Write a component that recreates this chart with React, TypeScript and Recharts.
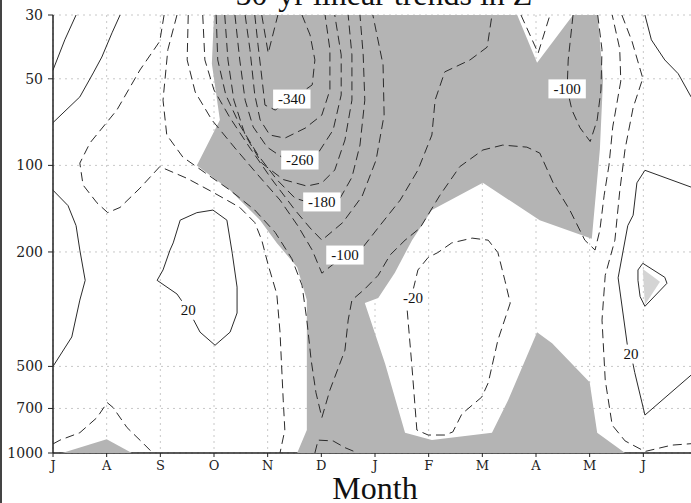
import React from 'react';
import { ScatterChart, Scatter, XAxis, YAxis, CartesianGrid } from 'recharts';

type Pt = [number, number]; // [month index from July, pressure hPa]

const MONTHS = ['J', 'A', 'S', 'O', 'N', 'D', 'J', 'F', 'M', 'A', 'M', 'J'];
const MONTH_TICKS = [0, 1, 2, 3, 4, 5, 6, 7, 8, 9, 10, 11];
const LEVEL_TICKS = [30, 50, 100, 200, 500, 700, 1000];

// shaded (significant) areas
const SIG_MAIN: Pt[] = [
  [3.0, 30], [8.65, 30], [9.02, 44], [9.69, 30], [10.15, 30], [10.25, 50], [10.19, 88],
  [10.04, 180], [9.07, 155], [8.01, 115], [7.06, 143], [6.69, 182], [6.37, 236], [6.06, 289],
  [5.81, 301], [6.19, 490], [6.56, 850], [7.06, 902], [8.18, 850], [8.48, 655], [9.02, 380],
  [9.3, 415], [10.0, 567], [10.14, 850], [10.66, 1000], [4.55, 1000], [4.73, 832], [4.73, 294],
  [4.55, 226], [4.17, 186], [3.86, 155], [3.3, 122], [2.68, 100], [3.11, 69.5], [2.96, 44.3],
];
const SIG_SURFACE: Pt[] = [[0.17, 1000], [1.0, 895], [1.47, 1000]];
const SIG_JUNE: Pt[] = [[10.99, 229], [11.31, 254], [11.03, 306]];

// positive trends (solid)
const POS_A: Pt[] = [[0.43, 30], [0.22, 36.6], [0, 46.6]];
const POS_B: Pt[] = [[1.25, 30], [1.1, 34.6], [0.91, 42], [0.75, 47.7], [0.5, 57.8], [0, 71]];
const POS_C: Pt[] = [[0, 122], [0.28, 138], [0.43, 162], [0.5, 197], [0.6, 251], [0.5, 294], [0.35, 395], [0, 500]];
const POS_AUTUMN: Pt[] = [
  [2.24, 186], [2.37, 155], [2.68, 146], [2.98, 143], [3.24, 155], [3.34, 202], [3.43, 265],
  [3.43, 326], [3.3, 380], [3.02, 422], [2.74, 380], [2.59, 336], [2.52, 319], [2.31, 280],
  [1.94, 251], [2.05, 231], [2.18, 197], [2.24, 186],
];
const POS_JUNE: Pt[] = [
  [12, 121], [11.89, 119], [11.03, 104], [10.88, 115], [10.81, 149], [10.71, 162], [10.53, 246],
  [10.71, 432], [10.77, 453], [10.84, 525], [11.03, 738], [11.89, 536], [12, 515],
];
const POS_TOP_RIGHT: Pt[] = [[11.03, 30], [11.15, 36.6], [11.4, 43], [11.65, 48], [11.89, 57.8], [12, 60]];
const POS_JUNE_CORE: Pt[] = [[10.9, 231], [10.99, 219], [11.4, 245], [11.44, 257], [11.03, 309], [10.94, 286], [10.9, 251], [10.9, 231]];

// negative trends (dashed)
const NEG_380: Pt[] = [[3.89, 30], [4.01, 40.7], [4.19, 30]];
const NEG_340: Pt[] = [
  [3.76, 30], [3.82, 38.1], [3.89, 49.3], [3.95, 61.7], [4.14, 64.2], [4.45, 58.8], [4.83, 52.5],
  [4.88, 43], [4.79, 35.2], [4.64, 30],
];
const NEG_300: Pt[] = [
  [3.58, 30], [3.67, 39.6], [3.76, 56.9], [3.86, 69.5], [4.04, 78.4], [4.32, 80.4], [4.7, 74.2],
  [5.01, 66.8], [5.16, 54.7], [5.16, 39.6], [5.07, 30],
];
const NEG_260: Pt[] = [
  [3.39, 30], [3.48, 43], [3.58, 59.3], [3.73, 73.5], [3.99, 86.4], [4.29, 94.3], [4.6, 95.8],
  [4.94, 90.6], [5.22, 75.3], [5.37, 56.9], [5.37, 41.3], [5.25, 30],
];
const NEG_220: Pt[] = [
  [3.2, 30], [3.26, 43], [3.37, 59.3], [3.58, 78.4], [3.89, 98.2], [4.29, 112], [4.73, 118],
  [5.01, 115], [5.25, 103.8], [5.44, 81.6], [5.57, 59.3], [5.57, 41.3], [5.5, 30],
];
const NEG_180: Pt[] = [
  [3.04, 30], [3.07, 43], [3.22, 56.9], [3.48, 72.4], [3.82, 92.1], [4.17, 112], [4.51, 130],
  [4.79, 135], [5.01, 134], [5.35, 130], [5.57, 110], [5.72, 85], [5.81, 59.3], [5.78, 41.3], [5.72, 30],
];
const NEG_140: Pt[] = [
  [2.79, 30], [2.83, 43], [3.0, 54.7], [3.3, 68.4], [3.67, 87], [4.08, 112], [4.51, 143],
  [4.79, 165], [5.01, 182], [5.4, 158], [5.76, 128], [6.02, 95.8], [6.17, 66.8], [6.15, 44.7], [5.96, 30],
];
const NEG_100: Pt[] = [
  [2.52, 30], [2.5, 43], [2.65, 55.6], [2.96, 69.5], [3.39, 87], [3.82, 108], [4.23, 132],
  [4.56, 162], [4.83, 197], [5.01, 237], [5.44, 205], [5.78, 192], [6.09, 162], [6.47, 132],
  [6.8, 103.8], [7.06, 78.4], [7.12, 59.3], [7.3, 47.3], [7.77, 43], [8.09, 38.8], [8.18, 30],
];
const NEG_60: Pt[] = [
  [2.31, 30], [2.14, 39.6], [2.05, 59.3], [2.12, 78.4], [2.42, 93.6], [2.83, 106], [3.3, 122],
  [3.76, 143], [4.14, 171], [4.45, 211], [4.64, 261], [4.73, 345], [4.81, 475], [4.9, 617],
  [5.01, 753], [5.16, 604], [5.44, 439], [5.5, 345], [5.57, 294], [5.81, 269], [6.06, 241],
  [6.28, 205], [6.56, 182], [6.84, 165], [7.21, 127], [7.58, 101], [8.01, 88.4], [8.38, 85],
  [8.83, 86.4], [9.07, 90.6], [9.32, 115], [9.63, 143], [9.91, 182], [10.1, 197], [10.19, 168],
  [10.27, 127], [10.36, 99.8], [10.43, 73.5], [10.58, 50.9], [10.56, 39.3], [10.42, 30],
];
const NEG_20_WEST: Pt[] = [
  [2.07, 30], [1.99, 37], [1.62, 46.6], [1.19, 64.2], [0.69, 83.5], [0.5, 98.2], [0.56, 117],
  [0.82, 135], [1.02, 146], [1.25, 140], [1.62, 120], [1.99, 101], [2.5, 111], [2.98, 124],
  [3.48, 140], [3.76, 158], [3.89, 182], [4.01, 222], [4.17, 280], [4.23, 380], [4.29, 655],
  [4.32, 832], [4.23, 1000],
];
const NEG_20_EAST: Pt[] = [
  [10.6, 30], [10.79, 37.1], [10.99, 49.8], [10.81, 63], [10.66, 87.7], [10.56, 123], [10.47, 182],
  [10.29, 241], [10.23, 345], [10.29, 558], [10.42, 800], [10.66, 908], [11.03, 988], [11.53, 939], [12, 925],
];
const NEG_20_SPRING: Pt[] = [
  [6.71, 289], [6.6, 319], [6.69, 505], [6.78, 832], [6.99, 866], [7.3, 866], [7.45, 845],
  [7.62, 731], [7.99, 639], [8.11, 570], [8.29, 405], [8.52, 301], [8.42, 251], [8.29, 201],
  [8.11, 182], [7.81, 179], [7.43, 186], [7.17, 201], [6.99, 209], [6.8, 231], [6.71, 271], [6.71, 289],
];
const NEG_100_APRIL: Pt[] = [
  [9.69, 30], [9.6, 43], [9.58, 54.2], [9.67, 64.2], [9.82, 74], [10.01, 82.6], [10.14, 69.5],
  [10.21, 54.7], [10.23, 39.6], [10.15, 30],
];
const NEG_APRIL_TOP: Pt[] = [[8.72, 30], [9.04, 40.7], [9.26, 30]];
const NEG_SURFACE_AUG: Pt[] = [
  [0, 930], [0.13, 902], [0.5, 850], [0.82, 753], [1.01, 668], [1.12, 695], [1.38, 816], [1.68, 925], [1.86, 1000],
];
const NEG_SURFACE_DEC: Pt[] = [[4.88, 1000], [4.94, 902], [5.22, 908], [5.44, 958], [5.68, 1000]];

const SOLID_LINES = [POS_A, POS_B, POS_C, POS_AUTUMN, POS_JUNE, POS_TOP_RIGHT, POS_JUNE_CORE];
const DASHED_LINES = [
  NEG_380, NEG_340, NEG_300, NEG_260, NEG_220, NEG_180, NEG_140, NEG_100, NEG_60,
  NEG_20_WEST, NEG_20_EAST, NEG_20_SPRING, NEG_100_APRIL, NEG_APRIL_TOP, NEG_SURFACE_AUG, NEG_SURFACE_DEC,
];

const LABEL_TEXT = ['-340', '-260', '-180', '-100', '-100', '-20', '20', '20'];
const LABEL_AT: Pt[] = [
  [4.45, 58.8], [4.6, 95.8], [5.01, 134], [5.44, 205], [9.58, 54.2], [6.71, 289], [2.52, 319], [10.77, 453],
];

const toRows = (pts: Pt[]) => pts.map(([m, p]) => ({ m, p }));
const labelRows = LABEL_AT.map(([m, p], i) => ({ m, p, text: LABEL_TEXT[i] }));

const SHADE = '#b4b4b4';
const SHADE_LIGHT = '#d4d4d4';
const INK = '#2b2b2b';
const SERIF = '"Liberation Serif", "Times New Roman", serif';
const TICK_FONT = '"DejaVu Serif", serif';

const toPath = (pts: { x: number; y: number }[], close: boolean) =>
  pts.map((q, i) => `${i ? 'L' : 'M'}${q.x},${q.y}`).join(' ') + (close ? ' Z' : '');

const noDot = () => <g />;

const area = (fill: string) => (lp: any) => <path d={toPath(lp.points, true)} fill={fill} stroke="none" />;
const contour = (dash?: string) => (lp: any) => (
  <path d={toPath(lp.points, false)} fill="none" stroke={INK} strokeWidth={1} strokeDasharray={dash} />
);

const ContourLabel = (props: any) => {
  const { cx, cy, payload } = props;
  const w = payload.text.length * 7.6 + 7;
  return (
    <g>
      <rect x={cx - w / 2} y={cy - 9.5} width={w} height={19} fill="#fff" />
      <text x={cx} y={cy + 5} textAnchor="middle" fontSize={15} fontFamily={SERIF} fill="#111">
        {payload.text}
      </text>
    </g>
  );
};

const App: React.FC = () => {
  return (
    <div
      style={{
        position: 'absolute',
        left: 0,
        top: 0,
        width: 691,
        height: 503,
        overflow: 'hidden',
        background: '#fff',
      }}
    >
      <div style={{ position: 'absolute', left: 0, top: 0, bottom: 0, borderLeft: '2px solid #444' }} />
      <div
        style={{
          position: 'absolute',
          left: 0,
          width: 768,
          top: -22,
          textAlign: 'center',
          fontFamily: SERIF,
          fontSize: 32,
          lineHeight: '32px',
          color: '#111',
          whiteSpace: 'nowrap',
        }}
      >
        50-yr linear trends in Z
      </div>
      <ScatterChart width={720} height={503} margin={{ top: 15, right: 23, left: 0, bottom: 0 }}>
        <CartesianGrid stroke="#c8c8c8" strokeDasharray="2 4" />
        <XAxis
          xAxisId="top"
          orientation="top"
          dataKey="m"
          type="number"
          domain={[0, 12]}
          height={0}
          tick={false}
          tickLine={false}
          axisLine={{ stroke: '#8a8a8a', strokeWidth: 2 }}
          allowDataOverflow
        />
        <XAxis
          dataKey="m"
          type="number"
          domain={[0, 12]}
          ticks={MONTH_TICKS}
          interval={0}
          tickFormatter={(v: number) => MONTHS[v] ?? ''}
          height={50}
          tickSize={4}
          tickMargin={4}
          axisLine={{ stroke: '#222', strokeWidth: 1.5 }}
          tickLine={{ stroke: '#222' }}
          tick={{ fill: '#222', fontSize: 13, fontFamily: TICK_FONT }}
          allowDataOverflow
        />
        <YAxis
          dataKey="p"
          type="number"
          scale="log"
          domain={[30, 1000]}
          reversed
          ticks={LEVEL_TICKS}
          interval={0}
          width={53}
          tickSize={5}
          tickMargin={5}
          axisLine={{ stroke: '#222', strokeWidth: 1.5 }}
          tickLine={{ stroke: '#222' }}
          tick={{ fill: '#222', fontSize: 14, fontFamily: TICK_FONT }}
          allowDataOverflow
        />
        <Scatter data={toRows(SIG_MAIN)} line={area(SHADE)} shape={noDot} isAnimationActive={false} />
        <Scatter data={toRows(SIG_SURFACE)} line={area(SHADE)} shape={noDot} isAnimationActive={false} />
        <Scatter data={toRows(SIG_JUNE)} line={area(SHADE_LIGHT)} shape={noDot} isAnimationActive={false} />
        {SOLID_LINES.map((pts, i) => (
          <Scatter key={`pos-${i}`} data={toRows(pts)} line={contour()} shape={noDot} isAnimationActive={false} />
        ))}
        {DASHED_LINES.map((pts, i) => (
          <Scatter key={`neg-${i}`} data={toRows(pts)} line={contour('9 5')} shape={noDot} isAnimationActive={false} />
        ))}
        <Scatter data={labelRows} shape={ContourLabel} isAnimationActive={false} />
      </ScatterChart>
      <div
        style={{
          position: 'absolute',
          left: 0,
          width: 750,
          top: 478,
          textAlign: 'center',
          fontFamily: SERIF,
          fontSize: 32,
          lineHeight: '20px',
          color: '#111',
        }}
      >
        Month
      </div>
    </div>
  );
};

export default App;
